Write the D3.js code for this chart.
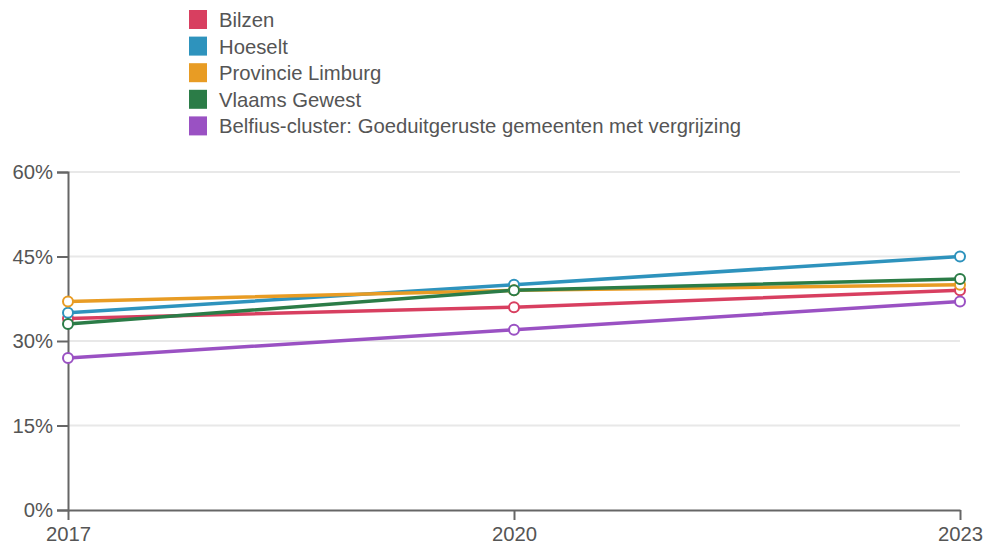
<!DOCTYPE html>
<html>
<head>
<meta charset="utf-8">
<script src="https://cdn.jsdelivr.net/npm/d3@7"></script>
<style>
  body { margin: 0; background: #fff; }
  text { font-family: "Liberation Sans", Arial, sans-serif; }
</style>
</head>
<body>
<div id="chart"></div>
<script>
const years = ["2017", "2020", "2023"];
const seriesNames = [
  "Bilzen",
  "Hoeselt",
  "Provincie Limburg",
  "Vlaams Gewest",
  "Belfius-cluster: Goeduitgeruste gemeenten met vergrijzing",
];
const colors = ["#d83f60", "#2e93bd", "#e89c24", "#2b7c47", "#9a51c3"];
const bilzen = [34, 36, 39];
const hoeselt = [35, 40, 45];
const limburg = [37, 39, 40];
const vlaams = [33, 39, 41];
const belfius = [27, 32, 37];
const yTicks = [0, 15, 30, 45, 60];

const seriesValues = [bilzen, hoeselt, limburg, vlaams, belfius];

const svgObj = { width: 986, height: 545 };
const margin = { left: 68, right: 26, top: 172, bottom: 35 };

const svg = d3
  .select("#chart")
  .append("svg")
  .attr("width", svgObj.width)
  .attr("height", svgObj.height);

const x = d3
  .scalePoint()
  .domain(years)
  .range([margin.left, svgObj.width - margin.right]);

const y = d3
  .scaleLinear()
  .domain([0, 60])
  .range([svgObj.height - margin.bottom, margin.top]);

// grid lines
svg
  .append("g")
  .selectAll("line")
  .data(yTicks.filter((d) => d > 0))
  .join("line")
  .attr("x1", margin.left)
  .attr("x2", svgObj.width - margin.right)
  .attr("y1", (d) => y(d))
  .attr("y2", (d) => y(d))
  .attr("stroke", "#e8e8e8")
  .attr("stroke-width", 2);

// y axis
const yAxis = svg
  .append("g")
  .attr("transform", `translate(${margin.left},0)`)
  .call(
    d3
      .axisLeft(y)
      .tickValues(yTicks)
      .tickFormat((d) => d + "%")
      .tickSize(11)
      .tickPadding(4)
  );
yAxis.select(".domain").attr("stroke", "#666").attr("stroke-width", 2);
yAxis.selectAll(".tick line").attr("stroke", "#666").attr("stroke-width", 2);
yAxis
  .selectAll(".tick text")
  .attr("fill", "#555")
  .style("font-size", "20.3px");

// x axis
const xAxis = svg
  .append("g")
  .attr("transform", `translate(0,${y(0)})`)
  .call(d3.axisBottom(x).tickSize(10).tickPadding(7).tickSizeOuter(0));
xAxis.select(".domain").attr("stroke", "#666").attr("stroke-width", 2);
xAxis.selectAll(".tick line").attr("stroke", "#666").attr("stroke-width", 2);
xAxis
  .selectAll(".tick text")
  .attr("fill", "#555")
  .style("font-size", "20.3px");

// lines
const line = d3
  .line()
  .x((d, i) => x(years[i]))
  .y((d) => y(d));

seriesValues.forEach((vals, s) => {
  svg
    .append("path")
    .datum(vals)
    .attr("d", line)
    .attr("fill", "none")
    .attr("stroke", colors[s])
    .attr("stroke-width", 3.5);
});

seriesValues.forEach((vals, s) => {
  svg
    .append("g")
    .selectAll("circle")
    .data(vals)
    .join("circle")
    .attr("cx", (d, i) => x(years[i]))
    .attr("cy", (d) => y(d))
    .attr("r", 5)
    .attr("fill", "white")
    .attr("stroke", colors[s])
    .attr("stroke-width", 2);
});

// legend
const legend = svg.append("g").attr("transform", "translate(189,10)");
seriesNames.forEach((name, i) => {
  const g = legend.append("g").attr("transform", `translate(0,${i * 26.6})`);
  g.append("rect")
    .attr("width", 18)
    .attr("height", 19)
    .attr("fill", colors[i]);
  g.append("text")
    .attr("x", 30)
    .attr("y", 17)
    .attr("fill", "#555")
    .style("font-size", "20.3px")
    .text(name);
});
</script>
</body>
</html>
